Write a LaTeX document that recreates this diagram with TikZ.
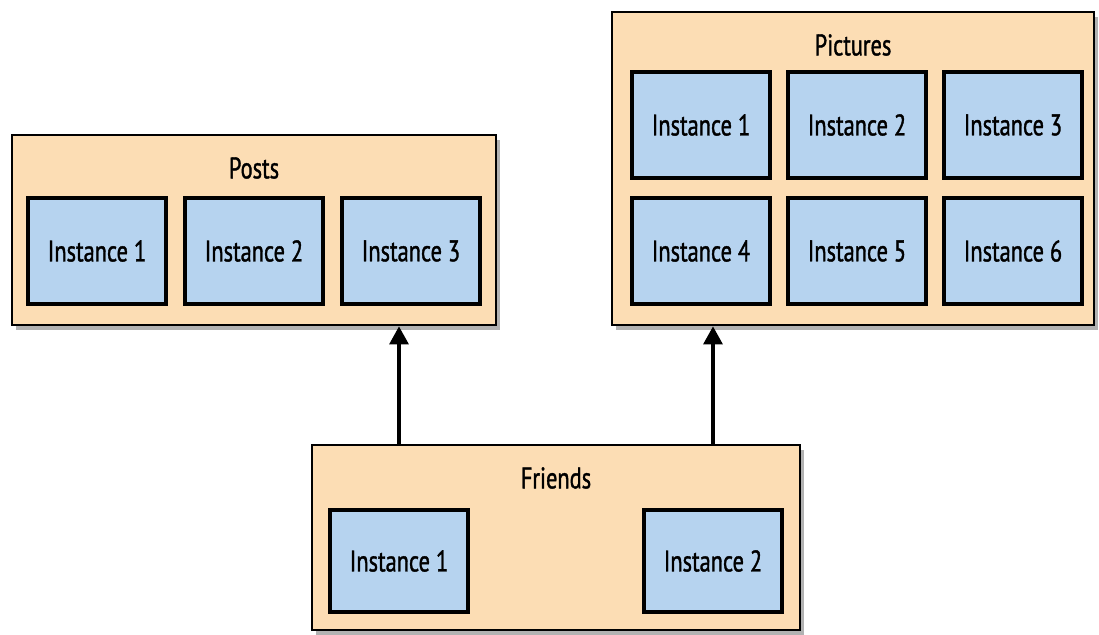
\documentclass[tikz,border=0pt]{standalone}
\usepackage{fontspec}
\setmainfont{PT Sans}[FakeStretch=0.75, FakeBold=1.2]
\usetikzlibrary{shadows,arrows.meta}
\definecolor{servicefill}{HTML}{FCDDB4}
\definecolor{instfill}{HTML}{B6D3EF}

\begin{document}
\begin{tikzpicture}[x=0.02cm, y=-0.02cm,
	service/.style={draw=black, line width=1.6pt, fill=servicefill,
		drop shadow={shadow xshift=0.08cm, shadow yshift=-0.1cm, fill=black!60, opacity=.5}},
	inst/.style={draw=black, line width=2pt, fill=instfill, minimum width=2.76cm,
		minimum height=2.12cm, inner sep=0pt, font=\fontsize{17}{19}\selectfont},
	title/.style={font=\fontsize{17}{19}\selectfont, inner sep=0pt},
	>={Triangle[length=0.36cm, width=0.38cm]}]
	\useasboundingbox (0,0) rectangle (1099,635);

	% outer boxes
	\node[service, minimum width=9.68cm, minimum height=3.8cm] (posts) at (254,230) {};
	\node[service, minimum width=9.64cm, minimum height=6.26cm] (pictures) at (853,168.5) {};
	\node[service, minimum width=9.76cm, minimum height=3.7cm] (friends) at (556,537.5) {};

	\node[title] (postsTitle) at (254,168) {Posts};
	\node[title] (picturesTitle) at (853,45) {Pictures};
	\node[title] (friendsTitle) at (556,478) {Friends};

	% posts instances
	\node[inst] (post1) at (97,251) {Instance 1};
	\node[inst] (post2) at (254,251) {Instance 2};
	\node[inst] (post3) at (411,251) {Instance 3};

	% pictures instances
	\node[inst] (pic1) at (701,125) {Instance 1};
	\node[inst] (pic2) at (857,125) {Instance 2};
	\node[inst] (pic3) at (1013,125) {Instance 3};
	\node[inst] (pic4) at (701,251) {Instance 4};
	\node[inst] (pic5) at (857,251) {Instance 5};
	\node[inst] (pic6) at (1013,251) {Instance 6};

	% friends instances
	\node[inst, minimum height=2.04cm] (friend1) at (399,561) {Instance 1};
	\node[inst, minimum height=2.04cm] (friend2) at (713,561) {Instance 2};

	\draw[->, line width=1.8pt] (friend1 |- friends.north) -- (friend1 |- posts.south);
	\draw[->, line width=1.8pt] (friend2 |- friends.north) -- (friend2 |- pictures.south);
\end{tikzpicture}
\end{document}
